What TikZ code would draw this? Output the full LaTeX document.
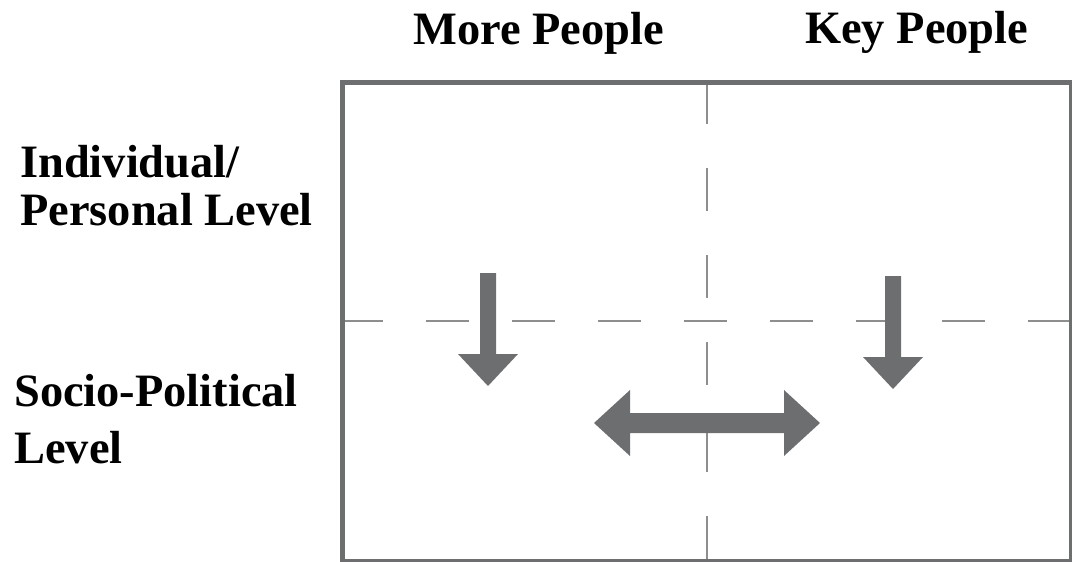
\documentclass[tikz,border=0pt]{standalone}
\usepackage{fontspec}
\setmainfont{Liberation Serif}

\definecolor{boxgray}{HTML}{6D6E70}
\definecolor{dashgray}{HTML}{8E8E8E}

\begin{document}
\begin{tikzpicture}[x=0.025cm,y=-0.025cm,
    heading/.style={font=\fontsize{33}{34}\selectfont\bfseries,
                    anchor=base west,inner sep=0pt},
    divider/.style={dashgray,line width=0.04cm},
    blockarrow/.style={fill=boxgray,draw=none}]

\useasboundingbox (0,0) rectangle (1072,561);

% quadrant lines
\draw[divider,dash pattern=on 1.075cm off 1.075cm]
     (340,321) -- (1072,321);
\draw[divider,dash pattern=on 1.075cm off 1.1cm]
     (706.7,81) -- (706.7,561);

\draw[boxgray,line width=0.125cm]
     (342.5,82.5) rectangle (1071.5,561.5);

% arrows
\fill[blockarrow] (480,273) -- (496,273) -- (496,354)
     -- (518,354) -- (488,386) -- (458,354) -- (480,354) -- cycle;
\fill[blockarrow] (885,276) -- (901,276) -- (901,357)
     -- (923,357) -- (893,389) -- (863,357) -- (885,357) -- cycle;
\fill[blockarrow] (594,423) -- (630,390) -- (630,413)
     -- (784,413) -- (784,390) -- (820,423) -- (784,456)
     -- (784,433) -- (630,433) -- (630,456) -- cycle;

% labels
\node[heading] at (413,44) (moreCap) {More People};
\node[heading] at (805,43) (keyCap) {Key People};

\node[heading,align=left] at (20,225) (indivCap)
     {Individual/\\Personal Level};
\node[heading,align=left,
      font=\fontsize{33}{40}\selectfont\bfseries]
     at (14,463) (socioCap)
     {Socio-Political\\Level};

\end{tikzpicture}
\end{document}
